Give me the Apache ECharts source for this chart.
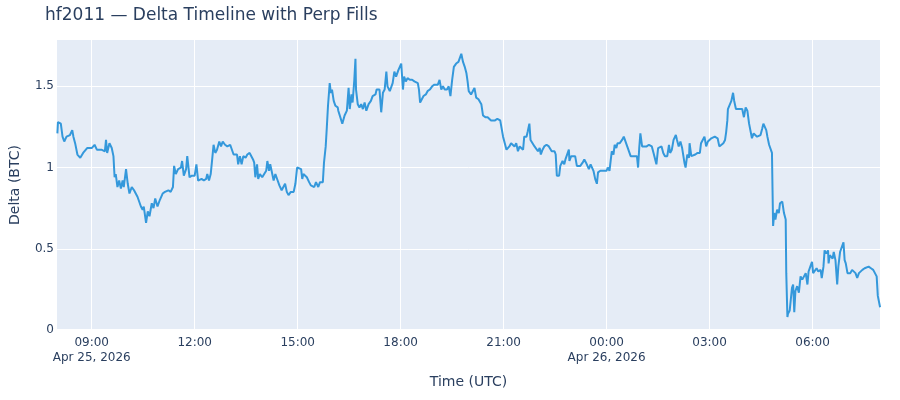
<!DOCTYPE html>
<html>
<head>
<meta charset="utf-8">
<title>hf2011 delta timeline</title>
<script src="https://cdn.jsdelivr.net/npm/echarts@6/dist/echarts.min.js"></script>
<style>
  html, body { margin: 0; padding: 0; background: #fff; }
  #chart { width: 900px; height: 400px; }
</style>
</head>
<body>
<div id="chart"></div>
<script>
// minutes after 2026-04-25 08:00 UTC
var minutes = [
  0, 1, 6, 9, 12, 16, 19, 22, 26, 28, 31, 35, 40, 45, 52, 60, 65, 69, 77, 83, 85, 87, 91, 95, 98,
  100, 102, 105, 108, 111, 114, 116, 120, 123, 126, 130, 134, 137, 140, 143, 146, 149, 151, 155, 158,
  161, 165, 168, 171, 175, 179, 184, 188, 194, 198, 202, 204, 207, 211, 216, 218, 221, 225, 227, 231,
  235, 240, 243, 246, 252, 256, 260, 262, 265, 268, 270, 273, 276, 279, 281, 283, 286, 289, 293, 297,
  302, 305, 308, 311, 314, 316, 319, 322, 325, 329, 332, 336, 339, 342, 344, 346, 349, 351, 354, 358,
  361, 365, 367, 370, 372, 375, 378, 381, 385, 388, 392, 395, 398, 401, 404, 408, 413, 416, 419, 422,
  426, 428, 430, 433, 436, 440, 443, 446, 449, 452, 456, 459, 464, 466, 469, 471, 473, 476, 478, 480,
  483, 486, 490, 491, 494, 498, 502, 506, 509, 511, 514, 516, 519, 521, 522, 525, 528, 531, 534, 537,
  540, 544, 548, 551, 556, 558, 563, 566, 569, 572, 575, 577, 581, 584, 586, 589, 592, 596, 599, 601,
  604, 606, 609, 612, 616, 620, 624, 627, 630, 632, 634, 637, 640, 644, 647, 651, 655, 659, 662, 665,
  668, 671, 674, 677, 681, 684, 687, 690, 693, 697, 701, 704, 706, 709, 712, 715, 717, 719, 723, 726,
  729, 732, 736, 738, 741, 744, 748, 752, 755, 758, 761, 765, 769, 774, 777, 779, 782, 785, 788, 790,
  793, 796, 799, 802, 805, 808, 811, 814, 816, 820, 822, 825, 827, 830, 834, 837, 840, 843, 845, 848,
  851, 855, 859, 862, 864, 869, 871, 873, 877, 879, 883, 886, 888, 891, 894, 895, 898, 901, 905, 908,
  911, 914, 918, 921, 924, 927, 929, 932, 934, 937, 940, 943, 945, 949, 952, 956, 960, 962, 965, 967,
  969, 972, 974, 977, 979, 983, 987, 990, 993, 996, 999, 1002, 1004, 1007, 1010, 1013, 1015, 1017, 1019, 1022,
  1025, 1030, 1034, 1037, 1039, 1042, 1045, 1047, 1050, 1053, 1056, 1059, 1062, 1066, 1069, 1071, 1074, 1077, 1081, 1083,
  1086, 1089, 1092, 1094, 1096, 1098, 1101, 1104, 1105, 1108, 1111, 1115, 1119, 1123, 1125, 1128, 1131, 1134, 1137, 1140,
  1143, 1146, 1149, 1152, 1154, 1157, 1160, 1164, 1167, 1169, 1171, 1172, 1175, 1178, 1181, 1183, 1186, 1189, 1193, 1197,
  1200, 1203, 1206, 1209, 1211, 1214, 1217, 1220, 1223, 1226, 1229, 1232, 1234, 1236, 1239, 1241, 1244, 1246, 1249, 1250,
  1251, 1253, 1255, 1258, 1261, 1263, 1267, 1270, 1273, 1274, 1276, 1277, 1280, 1283, 1284, 1286, 1288, 1290, 1293, 1296,
  1299, 1302, 1305, 1308, 1311, 1313, 1316, 1319, 1321, 1323, 1327, 1330, 1334, 1336, 1339, 1341, 1344, 1347, 1348, 1350,
  1353, 1355, 1357, 1360, 1363, 1365, 1368, 1371, 1374, 1376, 1378, 1381, 1383, 1386, 1389, 1392, 1395, 1398, 1401, 1404,
  1407, 1411, 1414, 1418, 1422, 1426, 1429, 1432, 1434, 1436, 1438
];
var delta = [
  1.21, 1.28, 1.27, 1.19, 1.16, 1.19, 1.18, 1.20, 1.23, 1.19, 1.15, 1.08, 1.06, 1.09, 1.12, 1.12, 1.14, 1.11, 1.11, 1.10, 1.17, 1.09, 1.15, 1.12, 1.07,
  0.94, 0.96, 0.88, 0.92, 0.87, 0.92, 0.88, 0.99, 0.90, 0.84, 0.88, 0.86, 0.87, 0.82, 0.83, 0.76, 0.74, 0.76, 0.66, 0.73,
  0.70, 0.78, 0.75, 0.81, 0.76, 0.80, 0.84, 0.85, 0.86, 0.85, 0.88, 1.01, 0.96, 0.99, 1.00, 1.04, 0.95, 0.99, 1.07, 0.94,
  0.95, 0.95, 1.02, 0.92, 0.93, 0.92, 0.93, 0.96, 0.92, 0.96, 1.03, 1.14, 1.09, 1.11, 1.12, 1.16, 1.13, 1.16, 1.14, 1.13,
  1.14, 1.13, 1.08, 1.07, 1.08, 1.02, 1.07, 1.02, 1.07, 1.06, 1.08, 1.09, 1.09, 1.05, 1.03, 0.94, 1.02, 0.93, 0.96, 0.94,
  0.94, 0.98, 1.04, 0.98, 1.02, 1.02, 0.92, 0.96, 0.92, 0.89, 0.86, 0.85, 0.90, 0.85, 0.83, 0.85, 0.85, 0.90, 1.00, 1.00,
  0.99, 0.93, 0.96, 0.95, 0.94, 0.91, 0.89, 0.90, 0.88, 0.91, 0.88, 0.91, 0.91, 1.03, 1.13, 1.25, 1.38, 1.52, 1.46, 1.48,
  1.41, 1.38, 1.37, 1.35, 1.34, 1.27, 1.32, 1.35, 1.49, 1.36, 1.45, 1.40, 1.54, 1.67, 1.48, 1.39, 1.37, 1.39, 1.36, 1.40,
  1.35, 1.39, 1.41, 1.44, 1.45, 1.48, 1.48, 1.34, 1.46, 1.48, 1.59, 1.50, 1.47, 1.48, 1.52, 1.59, 1.56, 1.60, 1.59, 1.64,
  1.48, 1.56, 1.53, 1.55, 1.54, 1.54, 1.53, 1.53, 1.52, 1.48, 1.40, 1.42, 1.44, 1.45, 1.47, 1.48, 1.50, 1.51, 1.50, 1.51,
  1.54, 1.48, 1.50, 1.48, 1.48, 1.50, 1.44, 1.54, 1.62, 1.64, 1.65, 1.66, 1.70, 1.65, 1.62, 1.58, 1.53, 1.47, 1.45, 1.47,
  1.49, 1.43, 1.42, 1.41, 1.39, 1.32, 1.31, 1.31, 1.32, 1.29, 1.30, 1.29, 1.30, 1.29, 1.28, 1.19, 1.18, 1.11, 1.10, 1.13,
  1.15, 1.15, 1.13, 1.15, 1.10, 1.13, 1.12, 1.11, 1.19, 1.19, 1.22, 1.27, 1.17, 1.16, 1.13, 1.12, 1.10, 1.12, 1.08, 1.11,
  1.13, 1.14, 1.13, 1.13, 1.10, 1.10, 1.08, 0.95, 0.95, 1.01, 1.04, 1.02, 1.05, 1.06, 1.11, 1.04, 1.07, 1.06, 1.07, 1.01,
  1.00, 1.01, 1.03, 1.05, 1.03, 1.04, 0.99, 1.02, 1.03, 0.98, 0.93, 0.90, 0.97, 0.98, 0.99, 0.98, 0.98, 1.00, 0.98, 1.04,
  1.10, 1.08, 1.14, 1.12, 1.15, 1.15, 1.17, 1.19, 1.20, 1.13, 1.14, 1.07, 1.06, 1.07, 1.06, 1.07, 1.00, 1.12, 1.21, 1.13,
  1.14, 1.13, 1.14, 1.13, 1.13, 1.09, 1.08, 1.02, 1.12, 1.13, 1.13, 1.09, 1.07, 1.07, 1.14, 1.09, 1.11, 1.17, 1.20, 1.17,
  1.13, 1.16, 1.12, 1.13, 1.03, 1.00, 1.08, 1.06, 1.15, 1.07, 1.08, 1.08, 1.09, 1.09, 1.15, 1.17, 1.19, 1.13, 1.16, 1.17,
  1.18, 1.17, 1.19, 1.20, 1.18, 1.13, 1.12, 1.15, 1.17, 1.22, 1.29, 1.36, 1.35, 1.41, 1.46, 1.41, 1.36, 1.37, 1.36, 1.36,
  1.31, 1.37, 1.35, 1.27, 1.27, 1.18, 1.21, 1.20, 1.19, 1.18, 1.20, 1.24, 1.27, 1.26, 1.23, 1.19, 1.14, 1.13, 1.09, 0.86,
  0.64, 0.72, 0.68, 0.74, 0.72, 0.78, 0.79, 0.72, 0.68, 0.35, 0.08, 0.10, 0.12, 0.13, 0.26, 0.28, 0.11, 0.24, 0.27, 0.23,
  0.33, 0.31, 0.32, 0.35, 0.28, 0.36, 0.39, 0.42, 0.35, 0.34, 0.38, 0.36, 0.37, 0.32, 0.39, 0.49, 0.47, 0.49, 0.41, 0.46,
  0.47, 0.44, 0.48, 0.43, 0.28, 0.39, 0.48, 0.49, 0.54, 0.43, 0.41, 0.35, 0.35, 0.35, 0.37, 0.37, 0.35, 0.32, 0.35, 0.34,
  0.37, 0.38, 0.39, 0.39, 0.38, 0.37, 0.37, 0.33, 0.21, 0.20, 0.14
];
var xTicks = ['2026-04-25T09:00:00Z', '2026-04-25T12:00:00Z', '2026-04-25T15:00:00Z', '2026-04-25T18:00:00Z',
  '2026-04-25T21:00:00Z', '2026-04-26T00:00:00Z', '2026-04-26T03:00:00Z', '2026-04-26T06:00:00Z'];
var yTicks = [0, 0.5, 1, 1.5];

var t0 = Date.UTC(2026, 3, 25, 8, 0, 0);
var points = [];
for (var i = 0; i < Math.min(minutes.length, delta.length); i++) {
  points.push([t0 + minutes[i] * 60000, delta[i]]);
}
var tickMs = xTicks.map(function (s) { return Date.parse(s); });
var months = ['Jan', 'Feb', 'Mar', 'Apr', 'May', 'Jun', 'Jul', 'Aug', 'Sep', 'Oct', 'Nov', 'Dec'];
function pad(n) { return (n < 10 ? '0' : '') + n; }

var txt = '#2a3f5f';
var font = 'DejaVu Sans';

var chart = echarts.init(document.getElementById('chart'));
chart.setOption({
  animation: false,
  textStyle: { fontFamily: font },
  title: {
    text: 'hf2011 — Delta Timeline with Perp Fills',
    left: 40, top: 2,
    textStyle: { color: txt, fontSize: 17, fontWeight: 'normal', fontFamily: font }
  },
  grid: {
    left: 57, right: 20, top: 40, bottom: 70,
    show: true, backgroundColor: '#E5ECF6', borderWidth: 0
  },
  xAxis: {
    type: 'value',
    min: t0 - 40000,
    max: t0 + 1439 * 60000 - 70000,
    name: 'Time (UTC)',
    nameLocation: 'middle',
    nameGap: 45,
    nameTextStyle: { color: txt, fontSize: 14, fontFamily: font },
    axisLine: { show: true, lineStyle: { color: '#ffffff', width: 2 } },
    axisTick: { show: false, customValues: tickMs },
    splitLine: { show: true, lineStyle: { color: '#ffffff', width: 1 } },
    axisLabel: {
      customValues: tickMs,
      color: txt, fontSize: 12, fontFamily: font, margin: 5, lineHeight: 15,
      formatter: function (v) {
        var d = new Date(v);
        var s = pad(d.getUTCHours()) + ':' + pad(d.getUTCMinutes());
        if (v === tickMs[0] || d.getUTCHours() === 0) {
          s += '\n' + months[d.getUTCMonth()] + ' ' + d.getUTCDate() + ', ' + d.getUTCFullYear();
        }
        return s;
      }
    }
  },
  yAxis: {
    type: 'value',
    min: 0, max: 1.785,
    name: 'Delta (BTC)',
    nameLocation: 'middle',
    nameGap: 35,
    nameTextStyle: { color: txt, fontSize: 14, fontFamily: font },
    axisLine: { show: false },
    axisTick: { show: false, customValues: yTicks },
    splitLine: { show: true, lineStyle: { color: '#ffffff', width: 1 } },
    axisLabel: { customValues: yTicks, color: txt, fontSize: 12, fontFamily: font, margin: 3 }
  },
  series: [{
    type: 'line',
    data: points,
    showSymbol: false,
    lineStyle: { color: '#3498db', width: 2 },
    itemStyle: { color: '#3498db' }
  }]
});
window.addEventListener('resize', chart.resize);
</script>
</body>
</html>
